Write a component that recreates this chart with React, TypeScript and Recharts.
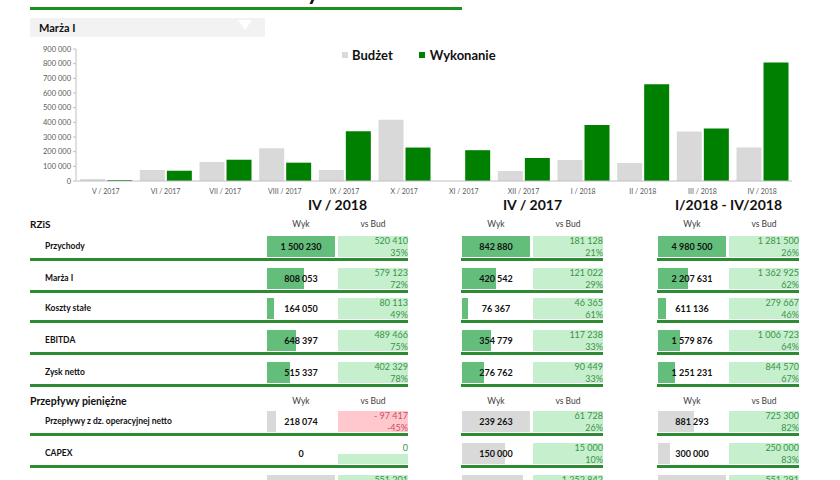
import { BarChart, Bar, XAxis, YAxis, Legend } from 'recharts';

// monthly Marża I: budget vs actual
const months = ['V / 2017', 'VI / 2017', 'VII / 2017', 'VIII / 2017', 'IX / 2017', 'X / 2017',
  'XI / 2017', 'XII / 2017', 'I / 2018', 'II / 2018', 'III / 2018', 'IV / 2018'];
const budzet = [13000, 75000, 130000, 223000, 75000, 417000, 0, 68000, 143000, 123000, 337000, 228930];
const wykonanie = [7000, 70000, 145000, 125000, 340000, 228000, 210000, 157000, 382000, 659000, 358000, 808053];
const yTicks = [0, 100000, 200000, 300000, 400000, 500000, 600000, 700000, 800000, 900000];

// table
const periods = ['IV / 2018', 'IV / 2017', 'I/2018 - IV/2018'];
const rzisLabels = ['Przychody', 'Marża I', 'Koszty stałe', 'EBITDA', 'Zysk netto'];
const rzisWyk = [
  [1500230, 808053, 164050, 648397, 515337],
  [842880, 420542, 76367, 354779, 276762],
  [4980500, 2207631, 611136, 1579876, 1251231],
];
const rzisVsBud = [
  [520410, 579123, 80113, 489466, 402329],
  [181128, 121022, 46365, 117238, 90449],
  [1281500, 1362925, 279667, 1006723, 844570],
];
const rzisVsPct = [
  [35, 72, 49, 75, 78],
  [21, 29, 61, 33, 33],
  [26, 62, 46, 64, 67],
];
const cashLabels = ['Przepływy z dz. operacyjnej netto', 'CAPEX', 'Przepływy pieniężne netto'];
const cashWyk = [
  [218074, 0, 1650000],
  [239263, 150000, 215000],
  [881293, 300000, 1660000],
];
const cashVsBud = [
  [-97417, 0, 551201],
  [61728, 15000, 1252842],
  [725300, 250000, 551291],
];
const cashVsPct = [
  [-45, null, 50],
  [26, 10, 40],
  [82, 83, 50],
];

const chartData = months.map((m, i) => ({ month: m, budzet: budzet[i], wykonanie: wykonanie[i] }));

const fmt = (v: number) => {
  const s = String(Math.abs(v)).replace(/\B(?=(\d{3})+(?!\d))/g, ' ');
  return v < 0 ? '- ' + s : s;
};

const wykLeft = [267, 462, 658];
const vsLeft = [338, 533, 729];
const CELL_W = 68;
const VS_W = 70;
const GREEN_LINE = '#2e8b34';

function GroupRow({ g, top, value, max, vs, pct, barColor }: any) {
  const neg = vs < 0;
  const topBg = vs === 0 ? '#fff' : neg ? '#ffc7ce' : '#c6efce';
  const botBg = neg ? '#ffc7ce' : '#c6efce';
  const txt = neg ? '#d0505c' : '#3a9446';
  return (
    <>
      <div style={{ position: 'absolute', left: wykLeft[g], top, width: CELL_W, height: 21 }}>
        {value > 0 && (
          <div style={{ position: 'absolute', left: 0, top: 0, height: 21, width: (value / max) * CELL_W, background: barColor }} />
        )}
        <div style={{ position: 'absolute', left: 0, top: 0, width: CELL_W, lineHeight: '21px', textAlign: 'center', fontSize: 9, fontWeight: 700, color: '#111' }}>
          {fmt(value)}
        </div>
      </div>
      <div style={{ position: 'absolute', left: vsLeft[g], top, width: VS_W, height: 11, background: topBg, color: txt, fontSize: 9, textAlign: 'right', lineHeight: '10px' }}>
        {fmt(vs)}
      </div>
      <div style={{ position: 'absolute', left: vsLeft[g], top: top + 11, width: VS_W, height: 10, background: botBg, color: txt, fontSize: 9, textAlign: 'right', lineHeight: '12px' }}>
        {pct === null ? '' : pct + '%'}
      </div>
    </>
  );
}

function Section({ labels, wyk, vs, pct, tops, barColor }: any) {
  return (
    <>
      {labels.map((lab: string, r: number) => (
        <div key={lab}>
          <div style={{ position: 'absolute', left: 45, top: tops[r], lineHeight: '21px', fontSize: 8.5, fontWeight: 700, color: '#111' }}>{lab}</div>
          {[0, 1, 2].map((g) => {
            const max = Math.max(...wyk[g]);
            return (
              <GroupRow key={g} g={g} top={tops[r]} value={wyk[g][r]} max={max} vs={vs[g][r]} pct={pct[g][r]} barColor={barColor} />
            );
          })}
          {[0, 1, 2].map((g) => (
            <div key={'l' + g} style={{
              position: 'absolute', left: g === 0 ? 30 : wykLeft[g] - 1, top: tops[r] + 22,
              width: (g === 0 ? vsLeft[0] + VS_W - 30 : vsLeft[g] + VS_W - wykLeft[g] + 1), height: 2.5, background: GREEN_LINE,
            }} />
          ))}
        </div>
      ))}
    </>
  );
}

function ColHeaders({ top }: { top: number }) {
  return (
    <>
      {[0, 1, 2].map((g) => (
        <div key={g}>
          <div style={{ position: 'absolute', left: wykLeft[g], top, width: CELL_W, textAlign: 'center', fontSize: 8.5, color: '#404040' }}>Wyk</div>
          <div style={{ position: 'absolute', left: vsLeft[g], top, width: VS_W, textAlign: 'center', fontSize: 8.5, color: '#404040' }}>vs Bud</div>
        </div>
      ))}
    </>
  );
}

const renderLegend = () => (
  <div style={{ display: 'flex', alignItems: 'center', fontSize: 13, fontWeight: 700, color: '#111', fontFamily: 'Lato', height: 17 }}>
    <span style={{ width: 6, height: 6, background: '#d9d9d9', marginRight: 4 }} />
    <span style={{ marginRight: 26 }}>Budżet</span>
    <span style={{ width: 6, height: 6, background: '#008000', marginRight: 5 }} />
    <span>Wykonanie</span>
  </div>
);

export default function App() {
  const rzisTops = [236, 268, 298, 330, 362];
  const cashTops = [411, 443, 475];
  return (
    <div style={{ position: 'absolute', left: 0, top: 0, width: 840, height: 480, overflow: 'hidden', background: '#fff', fontFamily: 'Lato, sans-serif' }}>
      <div style={{ position: 'absolute', left: 32, top: -22, fontSize: 24, fontWeight: 700, color: '#111', whiteSpace: 'nowrap', lineHeight: '26px' }}>
        Kluczowe wskaźniki efektywności
      </div>
      <div style={{ position: 'absolute', left: 30, top: 7, width: 432, height: 2.5, background: '#1a8f22' }} />
      <div style={{ position: 'absolute', left: 30, top: 18, width: 235, height: 19, background: '#f2f2f2' }}>
        <div style={{ position: 'absolute', left: 9, top: 0, lineHeight: '19px', fontSize: 11, fontWeight: 700, color: '#111' }}>Marża I</div>
        <div style={{ position: 'absolute', left: 208, top: 2, width: 0, height: 0, borderLeft: '7px solid transparent', borderRight: '7px solid transparent', borderTop: '10px solid #ffffff' }} />
      </div>

      <div style={{ position: 'absolute', left: 0, top: 0 }}>
        <BarChart width={840} height={217} data={chartData} margin={{ top: 49, right: 48, left: 0, bottom: 5 }}
          barCategoryGap="7%" barGap={2}>
          <XAxis dataKey="month" height={14} tick={{ fontSize: 7, fill: '#595959' }} tickLine={false} axisLine={{ stroke: '#bfbfbf' }} interval={0} />
          <YAxis width={76} domain={[0, 900000]} ticks={yTicks} tickFormatter={fmt} interval={0}
            tick={{ fontSize: 7.5, fill: '#595959' }} axisLine={{ stroke: '#bfbfbf' }} tickLine={{ stroke: '#bfbfbf' }} tickSize={3} />
          <Legend content={renderLegend} wrapperStyle={{ top: 46, left: 342, width: 'auto' }} />
          <Bar dataKey="budzet" name="Budżet" fill="#d9d9d9" isAnimationActive={false} />
          <Bar dataKey="wykonanie" name="Wykonanie" fill="#008000" isAnimationActive={false} />
        </BarChart>
      </div>

      {periods.map((p, g) => (
        <div key={p} style={{ position: 'absolute', left: wykLeft[g], top: 196, width: vsLeft[g] + VS_W - wykLeft[g], textAlign: 'center', fontSize: 14, fontWeight: 700, color: '#111' }}>{p}</div>
      ))}
      <div style={{ position: 'absolute', left: 30, top: 218, fontSize: 10, fontWeight: 700, color: '#111' }}>RZiS</div>
      <ColHeaders top={219} />
      <Section labels={rzisLabels} wyk={rzisWyk} vs={rzisVsBud} pct={rzisVsPct} tops={rzisTops} barColor="#63be7b" />

      <div style={{ position: 'absolute', left: 30, top: 395, fontSize: 10.5, fontWeight: 700, color: '#111' }}>Przepływy pieniężne</div>
      <ColHeaders top={396} />
      <Section labels={cashLabels} wyk={cashWyk} vs={cashVsBud} pct={cashVsPct} tops={cashTops} barColor="#d9d9d9" />
    </div>
  );
}
